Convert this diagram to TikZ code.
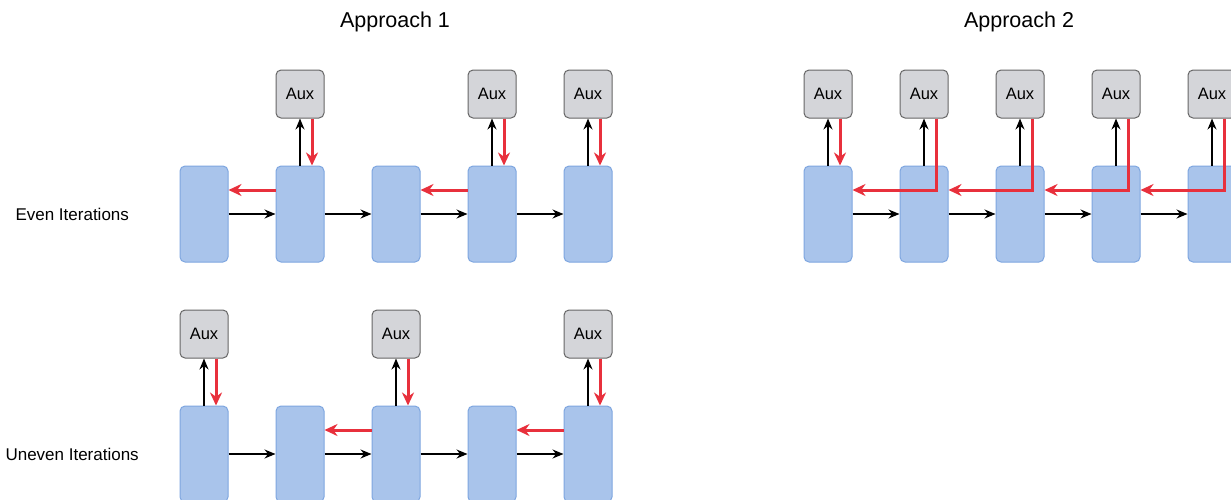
\documentclass[tikz,border=0pt]{standalone}
\usepackage{fontspec}
\setmainfont{Liberation Sans}
\usetikzlibrary{arrows.meta,calc}
\definecolor{bluefill}{HTML}{A9C4EB}
\definecolor{blueline}{HTML}{7EA6E0}
\definecolor{auxfill}{HTML}{D4D5D9}
\definecolor{auxline}{HTML}{666666}
\definecolor{redline}{HTML}{E8303C}
\tikzset{
  blk/.style={draw=blueline, fill=bluefill, line width=1pt, rounded corners=5pt, minimum width=48pt, minimum height=96pt, inner sep=0pt},
  auxbox/.style={draw=auxline, fill=auxfill, line width=1pt, rounded corners=5pt, minimum width=48pt, minimum height=48pt, inner sep=0pt, font=\fontsize{16.5}{18}\selectfont},
  fwd/.style={draw=black, line width=1.4pt, -{Stealth[length=11pt,width=9pt]}},
  back/.style={draw=redline, line width=3pt, -{Stealth[length=13pt,width=12pt]}},
  title/.style={font=\fontsize{21.5}{24}\selectfont},
  rowlabel/.style={font=\fontsize{17}{19}\selectfont, anchor=west}
}
\begin{document}
\begin{tikzpicture}[x=1pt,y=-1pt]
\useasboundingbox (0,0) rectangle (1231,499);
\clip (0,0) rectangle (1231,499);
\fill[white] (0,0) rectangle (1231,499);
% titles and row labels
\node[title] (t1) at (395,22) {Approach 1};
\node[title] (t2) at (1019,22) {Approach 2};
\node[rowlabel] (l1) at (12,214) {Even Iterations};
\node[rowlabel] (l2) at (2,454) {Uneven Iterations};
% blue blocks
\foreach \i/\x in {1/204,2/300,3/396,4/492,5/588}{
  \node[blk] (e\i) at (\x,214) {};
  \node[blk] (u\i) at (\x,454) {};
}
\foreach \i/\x in {1/828,2/924,3/1020,4/1116,5/1212}{
  \node[blk] (a\i) at (\x,214) {};
  \node[auxbox] (aa\i) at (\x,94) {Aux};
}
\node[auxbox] (ea2) at (300,94) {Aux};
\node[auxbox] (ea4) at (492,94) {Aux};
\node[auxbox] (ea5) at (588,94) {Aux};
\node[auxbox] (ua1) at (204,334) {Aux};
\node[auxbox] (ua3) at (396,334) {Aux};
\node[auxbox] (ua5) at (588,334) {Aux};
% forward arrows
\foreach \a/\b in {1/2,2/3,3/4,4/5}{
  \draw[fwd] (e\a.east) -- (e\b.west);
  \draw[fwd] (u\a.east) -- (u\b.west);
  \draw[fwd] (a\a.east) -- (a\b.west);
}
% aux up/down
\foreach \p/\q in {e2/ea2,e4/ea4,e5/ea5,u1/ua1,u3/ua3,u5/ua5,a1/aa1}{
  \draw[fwd] (\p.north) -- (\q.south);
  \draw[back] ([xshift=12pt]\q.south) -- ([xshift=12pt]\p.north);
}
\foreach \p/\q in {a2/aa2,a3/aa3,a4/aa4,a5/aa5}{
  \draw[fwd] (\p.north) -- (\q.south);
}
% red backward arrows
\draw[back] ([yshift=24pt]e2.west) -- ([yshift=24pt]e1.east);
\draw[back] ([yshift=24pt]e4.west) -- ([yshift=24pt]e3.east);
\draw[back] ([yshift=24pt]u3.west) -- ([yshift=24pt]u2.east);
\draw[back] ([yshift=24pt]u5.west) -- ([yshift=24pt]u4.east);
\foreach \a/\b in {1/2,2/3,3/4,4/5}{
  \draw[back] ([xshift=12pt]aa\b.south) |- ([yshift=24pt]a\a.east);
}
\end{tikzpicture}
\end{document}
